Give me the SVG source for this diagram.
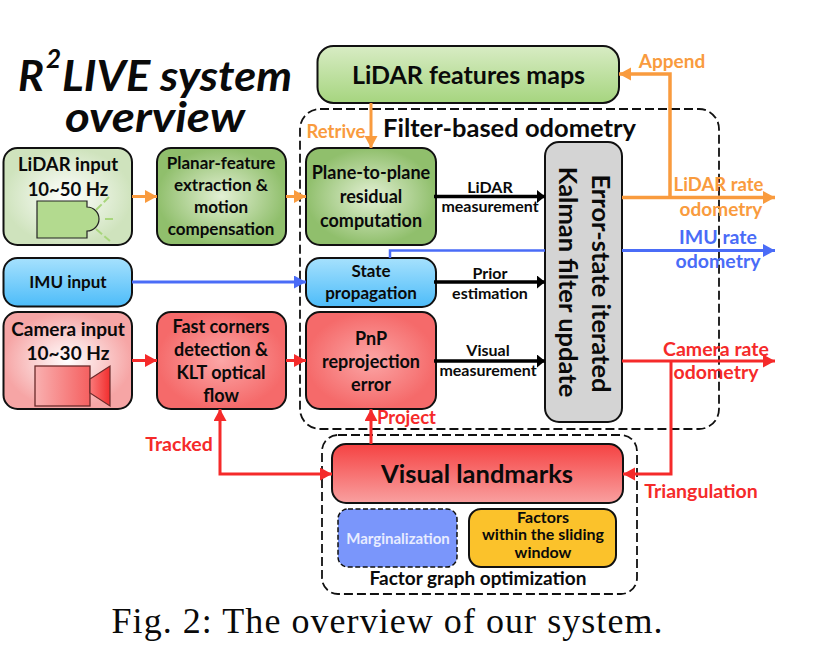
<svg xmlns="http://www.w3.org/2000/svg" width="824" height="656" viewBox="0 0 824 656">
<style>
text{font-family:"Lato","Open Sans",sans-serif;font-weight:700;text-anchor:middle;fill:#0a0a0a}
.box{stroke:#111;stroke-width:2}
.dash{fill:none;stroke:#111;stroke-width:1.8;stroke-dasharray:9 4}
.n{font-size:19px}.m{font-size:18px}.p{font-size:17px}.e{font-size:16px}.f{font-size:19.500px}
.or{fill:#f99b3e}.bl{fill:#4a6cf7}.rd{fill:#f52a2a}
.c{fill:none;stroke-linejoin:miter}
.o{stroke:#f99b3e}.b{stroke:#4a6cf7}.r{stroke:#f52a2a}.k{stroke:#000}
</style>
<defs>
<radialGradient id="gLight"><stop offset="0" stop-color="#fff"/><stop offset="1" stop-color="#cfe3bd"/></radialGradient>
<radialGradient id="gGreen"><stop offset="0" stop-color="#e3f0d4"/><stop offset="1" stop-color="#90bf6c"/></radialGradient>
<radialGradient id="gPink"><stop offset="0" stop-color="#fff"/><stop offset="1" stop-color="#f6a5a5"/></radialGradient>
<radialGradient id="gRed"><stop offset="0" stop-color="#fba6a6"/><stop offset="1" stop-color="#f56a6a"/></radialGradient>
<linearGradient id="gBlue" x1="0" y1="0" x2="0" y2="1"><stop offset="0" stop-color="#a6e1fd"/><stop offset="1" stop-color="#4dbcf9"/></linearGradient>
<linearGradient id="gMap" x1="0" y1="0" x2="0" y2="1"><stop offset="0" stop-color="#d8ecc4"/><stop offset="1" stop-color="#a6d57f"/></linearGradient>
<linearGradient id="gVis" x1="0" y1="0" x2="0" y2="1"><stop offset="0" stop-color="#f54242"/><stop offset="1" stop-color="#f9a0a0"/></linearGradient>
<linearGradient id="gCam" x1="0" y1="0" x2="1" y2="0"><stop offset="0" stop-color="#f9b0b0"/><stop offset="1" stop-color="#f56060"/></linearGradient>
<linearGradient id="gCone" x1="0" y1="0" x2="1" y2="0"><stop offset="0" stop-color="#f97a7a"/><stop offset="1" stop-color="#f22e2e"/></linearGradient>
<marker id="ao" markerUnits="userSpaceOnUse" markerWidth="14" markerHeight="14" refX="12" refY="6.5" orient="auto"><path d="M0 0L12 6.5L0 13Z" fill="#f99b3e"/></marker>
<marker id="ab" markerUnits="userSpaceOnUse" markerWidth="14" markerHeight="14" refX="12" refY="6.5" orient="auto"><path d="M0 0L12 6.5L0 13Z" fill="#4a6cf7"/></marker>
<marker id="ar" markerUnits="userSpaceOnUse" markerWidth="14" markerHeight="14" refX="12" refY="6.5" orient="auto-start-reverse"><path d="M0 0L12 6.5L0 13Z" fill="#f52a2a"/></marker>
<marker id="ak" markerUnits="userSpaceOnUse" markerWidth="10" markerHeight="14" refX="8" refY="6.5" orient="auto"><path d="M0 0L8 6.5L0 13Z" fill="#000"/></marker>
</defs>
<rect width="824" height="656" fill="#fff"/>

<g id="title">
<text x="18" y="91" font-size="42" font-style="italic" style="text-anchor:start" textLength="26" lengthAdjust="spacingAndGlyphs">R</text>
<text x="53.500" y="68" font-size="26" font-style="italic">2</text>
<text x="62" y="91" font-size="42" font-style="italic" style="text-anchor:start" textLength="230" lengthAdjust="spacingAndGlyphs">LIVE system</text>
<text x="155" y="132" font-size="42" font-style="italic" textLength="180" lengthAdjust="spacingAndGlyphs">overview</text>
</g>

<g id="filter-based-odometry"><rect class="dash" x="300" y="109" width="419" height="320" rx="20"/>
<text x="509.500" y="137" font-size="25.500">Filter-based odometry</text></g>
<g id="factor-graph-optimization"><rect class="dash" x="322" y="435" width="315" height="159" rx="16"/>
<text x="478" y="585" font-size="19">Factor graph optimization</text></g>

<g id="lidar-input"><rect class="box" x="3.500" y="148" width="128.500" height="97" rx="14" fill="url(#gLight)"/>
<text x="68" y="171" font-size="18.500">LiDAR input</text><text x="68" y="196" font-size="18.500">10~50 Hz</text>
<path d="M37 201H87V207A12 12 0 0 1 87 231V238H37Z" fill="#b3da8f" stroke="#222" stroke-width="1.200"/>
<path d="M96 210L109 197M105 219H113M96 229L110 241" stroke="#a8d67c" stroke-width="2" stroke-dasharray="8 3" fill="none"/></g>
<g id="planar-feature"><rect class="box" x="157" y="148" width="129" height="97" rx="14" fill="url(#gGreen)"/>
<text class="p" x="221" y="169">Planar-feature</text><text class="p" x="221" y="191">extraction &amp;</text><text class="p" x="221" y="213">motion</text><text class="p" x="221" y="235">compensation</text></g>
<g id="imu-input"><rect class="box" x="3.500" y="258" width="128.500" height="48.500" rx="14" fill="url(#gBlue)"/>
<text class="p" x="68" y="288">IMU input</text></g>
<g id="camera-input"><rect class="box" x="3.500" y="312" width="128.500" height="97" rx="14" fill="url(#gPink)"/>
<text class="n" x="68" y="336">Camera input</text><text class="n" x="68" y="360">10~30 Hz</text>
<rect x="35" y="366" width="55" height="40" fill="url(#gCam)" stroke="#6a2a2a" stroke-width="1.300"/>
<path d="M90 379L110 366V406L90 393Z" fill="url(#gCone)" stroke="#6a2a2a" stroke-width="1.200"/></g>
<g id="fast-corners"><rect class="box" x="157" y="312" width="129" height="97" rx="14" fill="url(#gRed)"/>
<text class="m" x="221" y="333">Fast corners</text><text class="m" x="221" y="356">detection &amp;</text><text class="m" x="221" y="379">KLT optical</text><text class="m" x="221" y="402">flow</text></g>
<g id="lidar-features-maps"><rect class="box" x="317.500" y="46" width="301.500" height="57" rx="16" fill="url(#gMap)"/>
<text x="468.500" y="84" font-size="25">LiDAR features maps</text></g>
<g id="plane-to-plane"><rect class="box" x="306" y="148" width="130" height="97" rx="14" fill="url(#gGreen)"/>
<text class="m" x="371" y="179">Plane-to-plane</text><text class="m" x="371" y="203">residual</text><text class="m" x="371" y="227">computation</text></g>
<g id="state-propagation"><rect class="box" x="306" y="258" width="130" height="49" rx="14" fill="url(#gBlue)"/>
<text class="p" x="371" y="277">State</text><text class="p" x="371" y="299">propagation</text></g>
<g id="pnp"><rect class="box" x="306" y="312" width="130" height="97" rx="14" fill="url(#gRed)"/>
<text class="m" x="371" y="345">PnP</text><text class="m" x="371" y="368">reprojection</text><text class="m" x="371" y="391">error</text></g>
<g id="kalman"><rect class="box" x="545" y="142" width="77" height="280" rx="14" fill="#d4d4d4"/>
<text transform="translate(592 283.500) rotate(90)" font-size="25.500">Error-state iterated</text>
<text transform="translate(559 282) rotate(90)" font-size="25.500">Kalman filter update</text></g>
<g id="visual-landmarks"><rect class="box" x="332" y="444" width="291" height="59" rx="14" fill="url(#gVis)"/>
<text x="477" y="483" font-size="25.500">Visual landmarks</text></g>
<g id="marginalization"><rect x="338" y="509" width="119" height="58" rx="10" fill="#7a96fb" stroke="#111" stroke-width="1.500" stroke-dasharray="5 2.500"/>
<text x="398" y="544" font-size="15" style="fill:#e8ecff">Marginalization</text></g>
<g id="factors-window"><rect class="box" x="469" y="509" width="147" height="58" rx="12" fill="#fbc22b"/>
<text class="e" x="543" y="523">Factors</text><text class="e" x="543" y="540">within the sliding</text><text class="e" x="543" y="558">window</text></g>

<g id="connectors" class="c">
<path class="c o" stroke-width="3" d="M132 196.500H157" marker-end="url(#ao)"/>
<path class="c o" stroke-width="3" d="M286 196.500H306" marker-end="url(#ao)"/>
<path class="c o" stroke-width="3" d="M371 103V148" marker-end="url(#ao)"/>
<path class="c o" stroke-width="3.500" d="M622 197.500H775" marker-end="url(#ao)"/>
<path class="c o" stroke-width="3.500" d="M670 197.500V74H619" marker-end="url(#ao)"/>
<path class="c b" stroke-width="3" d="M132 282H306" marker-end="url(#ab)"/>
<path class="c b" stroke-width="2.500" d="M390 258V250.500H545"/>
<path class="c b" stroke-width="3" d="M622 250.500H775" marker-end="url(#ab)"/>
<path class="c r" stroke-width="3" d="M132 360.500H157" marker-end="url(#ar)"/>
<path class="c r" stroke-width="3" d="M286 360.500H306" marker-end="url(#ar)"/>
<path class="c r" stroke-width="3" d="M371 444V409" marker-end="url(#ar)"/>
<path class="c r" stroke-width="3" d="M332 474H220V409" marker-start="url(#ar)" marker-end="url(#ar)"/>
<path class="c r" stroke-width="3" d="M622 361H775" marker-end="url(#ar)"/>
<path class="c r" stroke-width="3" d="M671 361V474H623" marker-end="url(#ar)"/>
<path class="c k" stroke-width="3.500" d="M434 196.500H545" marker-end="url(#ak)"/>
<path class="c k" stroke-width="3.500" d="M434 282H545" marker-end="url(#ak)"/>
<path class="c k" stroke-width="3.500" d="M434 361H545" marker-end="url(#ak)"/>
</g>

<g id="labels">
<text class="or" x="336" y="138" font-size="18.500">Retrive</text>
<text class="or" x="672" y="68" font-size="19">Append</text>
<text class="or" x="718.500" y="191" font-size="18.500">LiDAR rate</text>
<text class="or" x="721" y="216" font-size="19">odometry</text>
<text class="bl f" x="718" y="244">IMU rate</text>
<text class="bl f" x="718" y="268">odometry</text>
<text class="rd f" x="716" y="356">Camera rate</text>
<text class="rd f" x="716" y="379">odometry</text>
<text class="rd f" x="179" y="451">Tracked</text>
<text class="rd" x="406.500" y="424" font-size="18.500">Project</text>
<text class="rd f" x="701" y="498">Triangulation</text>
<text class="e" x="490" y="193">LiDAR</text>
<text class="e" x="490" y="212">measurement</text>
<text class="e" x="490" y="279">Prior</text>
<text class="e" x="490" y="299">estimation</text>
<text class="e" x="488" y="356">Visual</text>
<text class="e" x="488" y="376">measurement</text>
</g>
<text id="caption" x="387" y="633" font-size="36" style="font-family:'Liberation Serif',serif;font-weight:400" textLength="551">Fig. 2: The overview of our system.</text>
</svg>
